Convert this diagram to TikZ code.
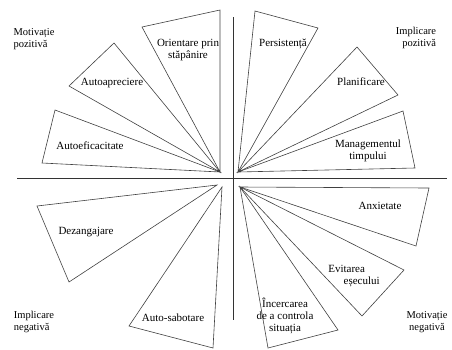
\documentclass[tikz,border=0pt]{standalone}
\usepackage{fontspec}
\setmainfont{Liberation Serif}
\tikzset{
  felie/.style={draw=black!75, line width=0.6pt},
  eticheta/.style={font=\fontsize{11}{12}\selectfont, align=center, inner sep=0pt},
  colt/.style={font=\fontsize{10.5}{12}\selectfont, inner sep=0pt}
}
\begin{document}
\begin{tikzpicture}[x=1pt, y=-1pt]
    \useasboundingbox (0,0) rectangle (452,349);
    % Axe
    \draw[black!80, line width=0.6pt] (17,178) -- (447,178);
    \draw[black!80, line width=0.6pt] (233,17) -- (233,320);
    % Cadran stanga sus
    \draw[felie] (220,172) -- (142,27) -- (220,10) -- cycle;
    \draw[felie] (220,172) -- (69,86) -- (114,43) -- cycle;
    \draw[felie] (220,172) -- (55,110) -- (42,163) -- cycle;
    % Cadran dreapta sus
    \draw[felie] (238,172) -- (255,11) -- (318,28) -- cycle;
    \draw[felie] (238,172) -- (357,47) -- (398,95) -- cycle;
    \draw[felie] (238,172) -- (403,111) -- (415,168) -- cycle;
    % Cadran stanga jos
    \draw[felie] (217,185) -- (37,206) -- (69,282) -- cycle;
    \draw[felie] (222,187) -- (129,326) -- (213,348) -- cycle;
    % Cadran dreapta jos
    \draw[felie] (240,187) -- (429,188) -- (416,246) -- cycle;
    \draw[felie] (240,187) -- (404,270) -- (362,316) -- cycle;
    \draw[felie] (240,187) -- (338,330) -- (268,348) -- cycle;
    % Etichete
    \node[eticheta] (orientare) at (188,50) {Orientare prin\\stăpânire};
    \node[eticheta] (autoapreciere) at (112,83) {Autoapreciere};
    \node[eticheta] (autoeficacitate) at (90,146) {Autoeficacitate};
    \node[eticheta] (persistenta) at (283,44) {Persistență};
    \node[eticheta] (planificare) at (361,82) {Planificare};
    \node[eticheta] (management) at (368,151) {Managementul\\timpului};
    \node[eticheta] (dezangajare) at (86,232) {Dezangajare};
    \node[eticheta] (autosabotare) at (173,318) {Auto-sabotare};
    \node[eticheta] (anxietate) at (380,206) {Anxietate};
    \node[eticheta, align=left] (evitarea) at (354,276) {Evitarea\\\hspace{1.4em}eșecului};
    \node[eticheta] (incercarea) at (285,316) {Încercarea\\de a controla\\situația};
    % Colturi
    \node[colt, align=left] (motpoz) at (34,39) {Motivație\\pozitivă};
    \node[colt, align=right] (implpoz) at (416,38) {Implicare\\pozitivă};
    \node[colt, align=left] (implneg) at (34,322) {Implicare\\negativă};
    \node[colt, align=center] (motneg) at (427,322) {Motivație\\negativă};
\end{tikzpicture}
\end{document}
